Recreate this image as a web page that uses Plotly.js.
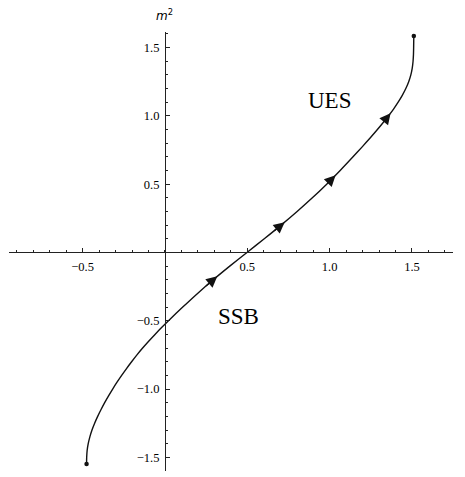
<!DOCTYPE html>
<html>
<head>
<meta charset="utf-8">
<script src="https://cdn.plot.ly/plotly-3.0.1.min.js"></script>
<style>
  html, body { margin: 0; padding: 0; background: #fff; }
  #plot { width: 465px; height: 477px; }
</style>
</head>
<body>
<div id="plot"></div>
<script>
// Flow curve in the (x, m^2) plane, from the lower end point to the upper one
const curveY = [-1.548, -1.50, -1.45, -1.40, -1.35, -1.30, -1.25, -1.20, -1.15, -1.10,
                -1.05, -1.00, -0.95, -0.90, -0.85, -0.80, -0.75, -0.70, -0.65, -0.60,
                -0.55, -0.50, -0.40, -0.30, -0.20, -0.10, 0.00, 0.10, 0.20, 0.30,
                0.40, 0.50, 0.60, 0.70, 0.775, 0.84, 0.90, 0.95, 1.00, 1.05,
                1.10, 1.15, 1.20, 1.25, 1.30, 1.35, 1.40, 1.45, 1.50, 1.585];
const curveX = [-0.4760, -0.4753, -0.4725, -0.4660, -0.4560, -0.4430, -0.4270, -0.4085, -0.3880, -0.3660,
                -0.3425, -0.3175, -0.2910, -0.2630, -0.2335, -0.2025, -0.1700, -0.1355, -0.0990, -0.0605,
                -0.0205, 0.0215, 0.1080, 0.1980, 0.2930, 0.3935, 0.4980, 0.6030, 0.7050, 0.8025,
                0.8950, 0.9820, 1.0640, 1.1420, 1.1990, 1.2470, 1.2900, 1.3240, 1.3570, 1.3880,
                1.4160, 1.4410, 1.4625, 1.4800, 1.4930, 1.5015, 1.5065, 1.5090, 1.5100, 1.5110];

// Direction arrows along the flow: tip and tail points on the curve
const arrowTipX  = [0.318, 0.727, 1.036, 1.370];
const arrowTipY  = [-0.175, 0.222, 0.565, 1.020];
const arrowTailX = [0.240, 0.655, 0.978, 1.324];
const arrowTailY = [-0.255, 0.150, 0.495, 0.950];

// Region labels
const regionText = ['UES', 'SSB'];
const regionX = [1.002, 0.449];
const regionY = [1.109, -0.472];

// Axis ticks
const xTickVals = [-0.5, 0.5, 1.0, 1.5];
const xTickText = ['\u22120.5', '0.5', '1.0', '1.5'];
const yTickVals = [-1.5, -1.0, -0.5, 0.5, 1.0, 1.5];
const yTickText = ['\u22121.5', '\u22121.0', '\u22120.5', '0.5', '1.0', '1.5'];

const xRange = [-0.947, 1.749];
const yRange = [-1.60, 1.614];

const serif = 'Times New Roman, Liberation Serif, serif';

const traces = [
  {
    x: curveX, y: curveY, type: 'scatter', mode: 'lines',
    line: { color: '#111', width: 1.4, shape: 'spline', smoothing: 0.8 },
    hoverinfo: 'skip', showlegend: false
  },
  {
    x: [curveX[0], curveX[curveX.length - 1]],
    y: [curveY[0], curveY[curveY.length - 1]],
    type: 'scatter', mode: 'markers',
    marker: { color: '#111', size: 4.5 },
    hoverinfo: 'skip', showlegend: false
  }
];

const annotations = [];
for (let i = 0; i < arrowTipX.length; i++) {
  annotations.push({
    x: arrowTipX[i], y: arrowTipY[i], xref: 'x', yref: 'y',
    ax: arrowTailX[i], ay: arrowTailY[i], axref: 'x', ayref: 'y',
    text: '', showarrow: true, arrowhead: 2, arrowsize: 1.7, arrowwidth: 1.3,
    arrowcolor: '#111', standoff: 0, startstandoff: 0
  });
}
for (let i = 0; i < regionText.length; i++) {
  annotations.push({
    x: regionX[i], y: regionY[i], xref: 'x', yref: 'y',
    text: regionText[i], showarrow: false,
    font: { family: serif, size: 23, color: '#000' }
  });
}
// vertical axis label, placed in pixels and converted to paper units
const plotW = 465 - 9 - 12, plotH = 477 - 32 - 6;
annotations.push({
  x: (164 - 9) / plotW, y: (477 - 6 - 15) / plotH, xref: 'paper', yref: 'paper',
  xanchor: 'center', yanchor: 'middle',
  text: '<i>m</i><sup>2</sup>', showarrow: false,
  font: { family: 'DejaVu Sans', size: 12, color: '#000' }
});

const layout = {
  width: 465, height: 477,
  margin: { l: 9, r: 12, t: 32, b: 6 },
  paper_bgcolor: '#fff', plot_bgcolor: '#fff',
  showlegend: false,
  xaxis: {
    range: xRange, anchor: 'free',
    position: (0 - yRange[0]) / (yRange[1] - yRange[0]),
    showgrid: false, zeroline: false,
    showline: true, linecolor: '#222', linewidth: 1,
    tickmode: 'array', tickvals: xTickVals, ticktext: xTickText,
    ticks: 'inside', ticklen: 4.5, tickwidth: 1, tickcolor: '#222',
    ticklabelstandoff: 3,
    minor: { dtick: 0.1, tick0: 0, ticks: 'inside', ticklen: 2.5, tickwidth: 1, tickcolor: '#222', showgrid: false },
    tickfont: { family: serif, size: 12.5, color: '#000' },
    fixedrange: true
  },
  yaxis: {
    range: yRange, anchor: 'free',
    position: (0 - xRange[0]) / (xRange[1] - xRange[0]),
    showgrid: false, zeroline: false,
    showline: true, linecolor: '#222', linewidth: 1,
    tickmode: 'array', tickvals: yTickVals, ticktext: yTickText,
    ticks: 'inside', ticklen: 4.5, tickwidth: 1, tickcolor: '#222',
    ticklabelstandoff: 3,
    minor: { dtick: 0.1, tick0: 0, ticks: 'inside', ticklen: 2.5, tickwidth: 1, tickcolor: '#222', showgrid: false },
    tickfont: { family: serif, size: 12.5, color: '#000' },
    fixedrange: true
  },
  annotations: annotations
};

Plotly.newPlot('plot', traces, layout, { displayModeBar: false, staticPlot: true });
</script>
</body>
</html>
